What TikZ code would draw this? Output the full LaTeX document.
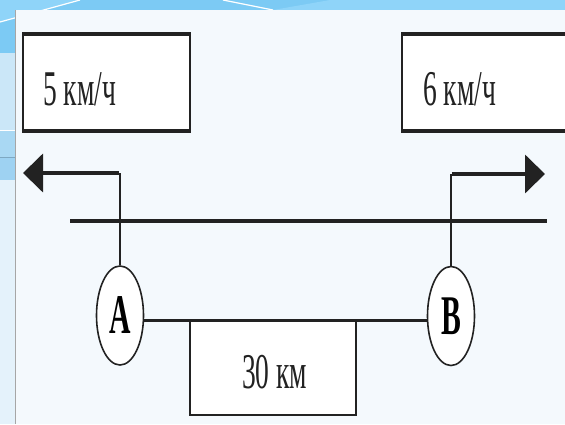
\documentclass[tikz,border=0pt]{standalone}
\usepackage{fontspec}
\setmainfont{Liberation Serif}
\usetikzlibrary{shapes.geometric,arrows.meta}

\definecolor{ink}{HTML}{222222}
\definecolor{slideblue}{HTML}{7CCAF4}
\definecolor{slidelight}{HTML}{8FD4F9}
\definecolor{paper}{HTML}{F4F9FD}
\definecolor{stripA}{HTML}{CBE7F8}
\definecolor{stripB}{HTML}{A9D8F3}
\definecolor{stripC}{HTML}{9ED2F2}

% narrow, tall lettering
\newcommand{\narrowtext}[1]{\scalebox{0.55}[1]{#1}}
\newcommand{\narrowbold}[1]{\scalebox{0.53}[1]{\bfseries #1}}

\begin{document}
\begin{tikzpicture}[x=1pt,y=-1pt,
  frame/.style={draw=ink, line width=2pt, fill=white, inner sep=0pt},
  station/.style={ellipse, draw=ink, line width=1.6pt, fill=white,
    minimum width=47pt, minimum height=99pt, inner sep=0pt,
    font=\fontsize{56}{56}\selectfont},
  lbl/.style={inner sep=0pt, anchor=base west, text=ink,
    font=\fontsize{50}{50}\selectfont},
  road/.style={draw=ink, line width=3.5pt},
  stem/.style={draw=ink, line width=1.8pt},
  move/.style={draw=ink, line width=4pt,
    -{Triangle[length=20pt,width=38pt]}},
  link/.style={draw=ink, line width=3pt}]

\useasboundingbox (0,0) rectangle (565,424);
\clip (0,0) rectangle (565,424);

% slide background
\fill[slideblue] (0,0) rectangle (565,424);
\fill[slidelight] (0,0) -- (80,0) -- (0,22) -- cycle;
\fill[slidelight] (273,10) -- (330,0) -- (565,0) -- (565,10) -- cycle;
\draw[white, line width=1.2pt] (0,22) -- (80,0);
\draw[white, line width=1.2pt] (223,0) -- (273,10);
\fill[stripA] (0,53) rectangle (15,130);
\fill[stripB] (0,130) rectangle (15,157);
\fill[stripC] (0,157) rectangle (15,180);
\fill[paper!60!stripA] (0,180) rectangle (15,424);
\draw[white, line width=0.8pt] (0,130) -- (15,130);
\draw[stripC!80!black, line width=0.6pt] (0,157) -- (15,157);
\fill[paper] (15,10) rectangle (565,424);
\draw[black!35, line width=0.8pt] (15,10) -- (15,424);

% speed boxes
\node[frame, minimum width=167pt, minimum height=95pt] (speedA) at (106.5,82.5) {};
\draw[ink, line width=3.5pt] (speedA.north west) -- (speedA.north east);
\draw[ink, line width=3.5pt] (speedA.south west) -- (speedA.south east);
\node[lbl] (speedAtext) at (43,105) {\narrowtext{5 км/ч}};

\node[frame, minimum width=200pt, minimum height=95pt] (speedB) at (502,82.5) {};
\draw[ink, line width=3.5pt] (speedB.north west) -- (speedB.north east);
\draw[ink, line width=3.5pt] (speedB.south west) -- (speedB.south east);
\node[lbl] (speedBtext) at (423,105) {\narrowtext{6 км/ч}};

% road
\coordinate (roadL) at (70,221);
\coordinate (roadR) at (547,221);
\draw[road] (roadL) -- (roadR);

% distance box
\node[frame, minimum width=166pt, minimum height=95pt] (dist) at (273,367.5) {};
\node[lbl] (disttext) at (242,388) {\narrowtext{30 км}};

% stations
\node[station] (A) at (120,315.5) {\narrowbold{A}};
\node[station] (B) at (451,316) {\narrowbold{B}};

% connection between the stations
\draw[link] (A.east |- 0,320) -- (B.west |- 0,320);

% directions of motion
\coordinate (bendA) at (120,173);
\coordinate (tipA) at (23,173);
\coordinate (bendB) at (451,174);
\coordinate (tipB) at (545,174);
\draw[stem] (A.north) -- (bendA);
\draw[move] ([xshift=-0.9pt]bendA) -- (tipA);
\draw[stem] (B.north) -- (bendB);
\draw[move] ([xshift=0.9pt]bendB) -- (tipB);
\end{tikzpicture}
\end{document}
